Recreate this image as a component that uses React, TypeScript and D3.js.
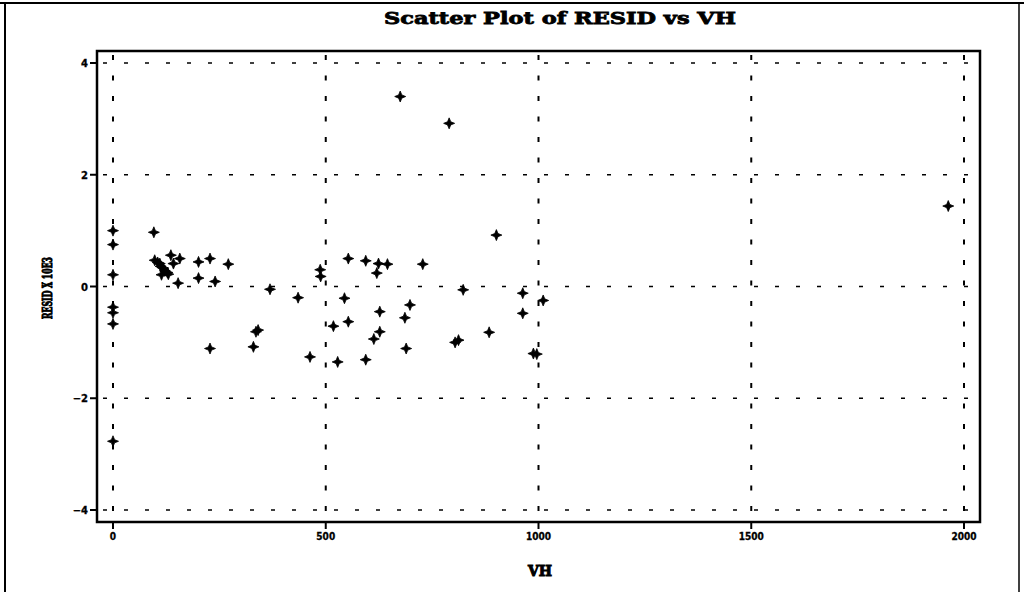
import React from "react";
import * as d3 from "d3";

const vh: number[] = [
  0, 0, 0, 0, 0, 0, 0,
  96, 98, 105, 110, 112, 118, 122, 128, 114, 130, 136, 142, 157, 153,
  201, 228, 271, 201, 240,
  369, 435, 487, 488,
  341, 336, 228, 330, 463,
  553, 594, 624, 645, 620, 728,
  823, 963, 1011, 963,
  544, 698, 627, 686, 553, 518, 627, 613,
  884, 812, 804, 689, 528, 594, 988, 996,
  675, 790, 901, 1963,
];
const resid: number[] = [
  1.0, 0.75, 0.21, -0.37, -0.47, -0.67, -2.77,
  0.97, 0.47, 0.43, 0.41, 0.36, 0.33, 0.28, 0.25, 0.21, 0.22, 0.56, 0.41, 0.5, 0.06,
  0.44, 0.5, 0.4, 0.15, 0.09,
  -0.05, -0.2, 0.3, 0.18,
  -0.78, -0.81, -1.11, -1.08, -1.26,
  0.5, 0.46, 0.41, 0.4, 0.24, 0.4,
  -0.06, -0.12, -0.25, -0.48,
  -0.21, -0.33, -0.45, -0.56, -0.63, -0.71, -0.81, -0.94,
  -0.82, -0.96, -1.0, -1.11, -1.35, -1.31, -1.2, -1.21,
  3.4, 2.92, 0.92, 1.44,
];
const xTicks: number[] = [0, 500, 1000, 1500, 2000];
const yTicks: number[] = [4, 2, 0, -2, -4];

const title = "Scatter Plot of RESID vs VH";
const xLabel = "VH";
const yLabel = "RESID X 10E3";

export default function App() {
  const left = 97, right = 980, top = 51, bottom = 522;
  const x = d3.scaleLinear().domain([0, 2000]).range([113, 964]);
  const y = d3.scaleLinear().domain([-4, 4]).range([510, 63]);
  const star = "M0,-5.5L1.6,-1.6L5.5,0L1.6,1.6L0,5.5L-1.6,1.6L-5.5,0L-1.6,-1.6Z";
  const heavy = "'DejaVu Serif', serif";
  return (
    <svg width={1024} height={592} style={{ position: "absolute", left: 0, top: 0, background: "#fff" }}>
      <rect x={0} y={0} width={1024} height={592} fill="#fff" />
      {/* outer border */}
      <line x1={0} y1={3} x2={1024} y2={3} stroke="#000" strokeWidth={2} />
      <line x1={5} y1={3} x2={5} y2={592} stroke="#000" strokeWidth={2} />
      <line x1={1019} y1={3} x2={1019} y2={592} stroke="#000" strokeWidth={1.5} />
      {/* title */}
      <text x={560} y={24} textAnchor="middle" fontFamily={heavy} fontWeight="bold" fontSize={17}
        textLength={352} lengthAdjust="spacingAndGlyphs" stroke="#000" strokeWidth={0.8}>{title}</text>
      {/* grid */}
      {xTicks.map((t) => (
        <line key={"gx" + t} x1={x(t)} x2={x(t)} y1={top + 4} y2={bottom - 4} stroke="#000"
          strokeWidth={2} strokeDasharray="5 15.5" />
      ))}
      {yTicks.map((t) => (
        <line key={"gy" + t} x1={left + 6} x2={right - 4} y1={y(t)} y2={y(t)} stroke="#000"
          strokeWidth={1.5} strokeDasharray="4 17" />
      ))}
      {/* frame */}
      <rect x={left} y={top} width={right - left} height={bottom - top} fill="none" stroke="#000" strokeWidth={2.5} />
      {/* y ticks */}
      {yTicks.map((t) => (
        <g key={"ty" + t}>
          <line x1={left - 7} x2={left} y1={y(t)} y2={y(t)} stroke="#000" strokeWidth={2} />
          <text x={left - 9} y={y(t) + 4} textAnchor="end" fontFamily="'DejaVu Sans', sans-serif"
            fontWeight="bold" fontSize={10} stroke="#000" strokeWidth={0.3}>{t === 0 ? "0" : t < 0 ? "\u2212" + Math.abs(t) : String(t)}</text>
        </g>
      ))}
      {/* x ticks */}
      {xTicks.map((t) => (
        <g key={"tx" + t}>
          <line x1={x(t)} x2={x(t)} y1={bottom} y2={bottom + 7} stroke="#000" strokeWidth={2} />
          <text x={x(t)} y={bottom + 18} textAnchor="middle" fontFamily="'DejaVu Sans Condensed', 'DejaVu Sans', sans-serif"
            fontWeight="bold" fontSize={10} stroke="#000" strokeWidth={0.3}>{t}</text>
        </g>
      ))}
      {/* axis labels */}
      <text x={540} y={576} textAnchor="middle" fontFamily={heavy} fontWeight="bold" fontSize={14}
        stroke="#000" strokeWidth={1}>{xLabel}</text>
      <text transform={`translate(52,288) rotate(-90)`} textAnchor="middle" fontFamily={heavy}
        fontWeight="bold" fontSize={13} textLength={62} lengthAdjust="spacingAndGlyphs"
        stroke="#000" strokeWidth={1}>{yLabel}</text>
      {/* points */}
      {vh.map((v, i) => (
        <path key={"p" + i} d={star} transform={`translate(${x(v)},${y(resid[i])})`} fill="#000"
          stroke="#000" strokeWidth={0.8} />
      ))}
    </svg>
  );
}
